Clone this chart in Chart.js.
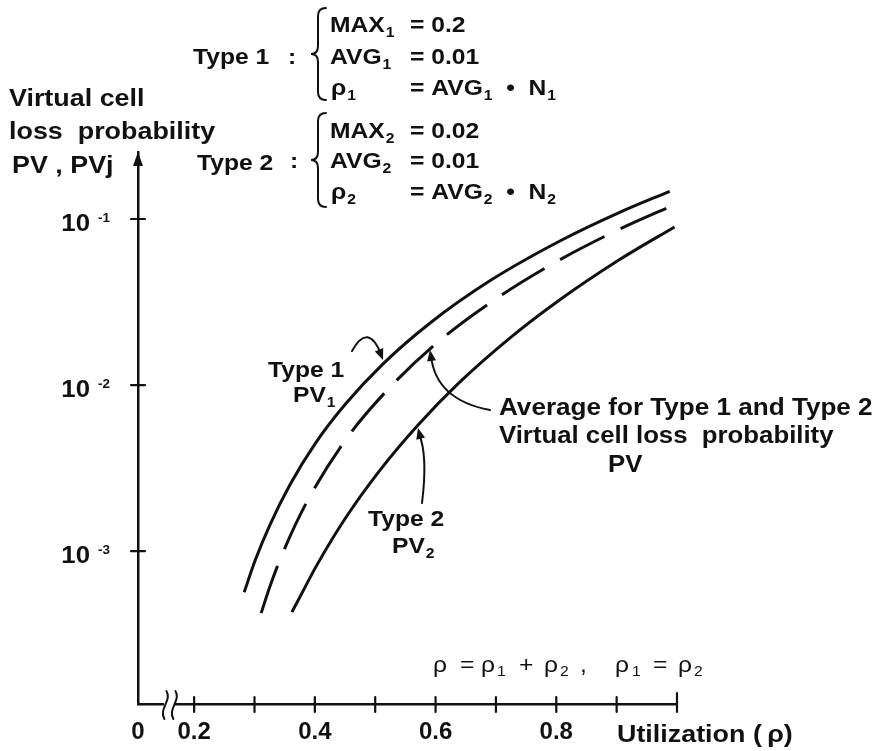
<!DOCTYPE html>
<html>
<head>
<meta charset="utf-8">
<script src="https://cdn.jsdelivr.net/npm/chart.js@4.4.1/dist/chart.umd.min.js"></script>
<style>
  html, body { margin: 0; padding: 0; background: #fff; }
  canvas { display: block; }
</style>
</head>
<body>
<canvas id="c" width="885" height="751"></canvas>
<script>
// Virtual cell loss probability versus utilization, two traffic types and their average
const utilType1 = [0.283, 0.301, 0.326, 0.359, 0.400, 0.450, 0.513, 0.591, 0.690, 0.806, 0.905, 0.988];
const pvType1   = [5.66e-4, 8.78e-4, 1.45e-3, 2.52e-3, 4.41e-3, 7.63e-3, 1.342e-2, 2.366e-2, 4.243e-2, 7.37e-2, 0.1096, 0.1469];

const utilAvg = [0.311, 0.326, 0.351, 0.389, 0.453, 0.525, 0.607, 0.702, 0.801, 0.905, 0.993];
const pvAvg   = [4.23e-4, 6.19e-4, 1.057e-3, 2.048e-3, 4.79e-3, 9.74e-3, 1.856e-2, 3.342e-2, 5.553e-2, 8.69e-2, 0.1208];

const utilType2 = [0.362, 0.376, 0.404, 0.450, 0.508, 0.571, 0.640, 0.723, 0.806, 0.905, 0.996];
const pvType2   = [4.29e-4, 5.36e-4, 8.32e-4, 1.567e-3, 3.076e-3, 5.75e-3, 1.041e-2, 1.919e-2, 3.265e-2, 5.70e-2, 8.96e-2];

// Axis ticks (the first x tick is the broken-axis origin, labelled 0)
const xTickValues = [0.107, 0.2, 0.3, 0.4, 0.5, 0.6, 0.7, 0.8, 0.9, 1.0];
const xTickLabels = ['0', '0.2', '', '0.4', '', '0.6', '', '0.8', '', ''];
const yTickValues = [1e-3, 1e-2, 1e-1];
const yTickExponents = ['-3', '-2', '-1'];

const X_BREAK = 0.159;
const INK = '#111';
const FONT = '"Liberation Sans", Arial, Helvetica, sans-serif';
const SX = 1.12; // lettering is drawn slightly wide

function text(ctx, s, x, y, size, opt = {}) {
  ctx.save();
  ctx.font = `${opt.weight || 'bold'} ${size}px ${FONT}`;
  const w = ctx.measureText(s).width * SX;
  let x0 = x;
  if (opt.align === 'right') x0 = x - w;
  else if (opt.align === 'center') x0 = x - w / 2;
  ctx.translate(x0, y);
  ctx.scale(SX, 1);
  ctx.textAlign = 'left';
  ctx.textBaseline = 'alphabetic';
  ctx.fillStyle = INK;
  ctx.fillText(s, 0, 0);
  ctx.restore();
  return x0 + w;
}

function runs(ctx, parts, x, y, size, opt = {}) {
  let cx = x;
  for (const [s, kind] of parts) {
    if (kind === 'sub') cx = text(ctx, s, cx + 1, y + 5, Math.round(size * 0.62), opt);
    else cx = text(ctx, s, cx, y, size, opt);
  }
  return cx;
}

function arrowHead(ctx, tx, ty, fx, fy, len = 11, half = 4.5) {
  const a = Math.atan2(ty - fy, tx - fx);
  ctx.save();
  ctx.translate(tx, ty);
  ctx.rotate(a);
  ctx.beginPath();
  ctx.moveTo(0, 0);
  ctx.lineTo(-len, -half);
  ctx.lineTo(-len, half);
  ctx.closePath();
  ctx.fillStyle = INK;
  ctx.fill();
  ctx.restore();
}

function brace(ctx, x, top, bottom) {
  const mid = (top + bottom) / 2;
  ctx.beginPath();
  ctx.moveTo(x + 8, top);
  ctx.quadraticCurveTo(x, top, x, top + 8);
  ctx.lineTo(x, mid - 8);
  ctx.quadraticCurveTo(x, mid, x - 7, mid);
  ctx.quadraticCurveTo(x, mid, x, mid + 8);
  ctx.lineTo(x, bottom - 8);
  ctx.quadraticCurveTo(x, bottom, x + 8, bottom);
  ctx.stroke();
}

const decorations = {
  id: 'decorations',
  afterDraw(chart) {
    const { ctx, chartArea: ca } = chart;
    const xs = chart.scales.x, ys = chart.scales.y;
    ctx.save();
    ctx.strokeStyle = INK;
    ctx.fillStyle = INK;
    ctx.lineCap = 'round';

    // y axis arrow head
    ctx.beginPath();
    ctx.moveTo(ca.left, ca.top);
    ctx.lineTo(ca.left - 5, ca.top + 14);
    ctx.lineTo(ca.left + 5, ca.top + 14);
    ctx.closePath();
    ctx.fill();

    // tick marks crossing the axes
    ctx.lineWidth = 2.2;
    xs.ticks.forEach((t, i) => {
      if (i === 0) return;
      const px = xs.getPixelForValue(t.value);
      const up = i === xs.ticks.length - 1 ? 11 : 7;
      ctx.beginPath();
      ctx.moveTo(px, ca.bottom - up);
      ctx.lineTo(px, ca.bottom + 8);
      ctx.stroke();
    });
    ys.ticks.forEach((t, i) => {
      const py = ys.getPixelForValue(t.value);
      ctx.beginPath();
      ctx.moveTo(ca.left - 7, py);
      ctx.lineTo(ca.left + 7, py);
      ctx.stroke();
      text(ctx, '10', ca.left - 48, py + 12, 23, { align: 'right' });
      text(ctx, yTickExponents[i], ca.left - 40, py + 3, 12);
    });

    // broken x axis between 0 and 0.2
    const bx = xs.getPixelForValue(X_BREAK);
    ctx.save();
    ctx.strokeStyle = '#fff';
    ctx.lineWidth = 5;
    ctx.beginPath();
    ctx.moveTo(bx - 3, ca.bottom);
    ctx.lineTo(bx + 3, ca.bottom);
    ctx.stroke();
    ctx.restore();
    ctx.lineWidth = 2;
    [-5, 4].forEach(dx => {
      ctx.beginPath();
      ctx.moveTo(bx + dx + 2, ca.bottom - 13);
      ctx.bezierCurveTo(bx + dx + 8, ca.bottom - 4, bx + dx - 6, ca.bottom + 5, bx + dx, ca.bottom + 15);
      ctx.stroke();
    });

    // axis titles
    text(ctx, 'Virtual cell', 9, 106, 24);
    text(ctx, 'loss  probability', 9, 139, 24);
    text(ctx, 'PV , PVj', 12, 173, 24);
    text(ctx, 'Utilization (\u2009ρ)', 617, 742, 24);

    // source parameters
    ctx.lineWidth = 2;
    text(ctx, 'Type 1', 193, 64, 22);
    text(ctx, ':', 288, 64, 22);
    brace(ctx, 318, 8, 100);
    runs(ctx, [['MAX'], ['1', 'sub']], 330, 32, 22);
    text(ctx, '= 0.2', 410, 32, 22);
    runs(ctx, [['AVG'], ['1', 'sub']], 330, 64, 22);
    text(ctx, '= 0.01', 410, 64, 22);
    runs(ctx, [['ρ'], ['1', 'sub']], 331, 95, 22);
    runs(ctx, [['= AVG'], ['1', 'sub'], ['  •  N'], ['1', 'sub']], 410, 95, 22);

    text(ctx, 'Type 2', 197, 170, 22);
    text(ctx, ':', 290, 168, 22);
    brace(ctx, 318, 113, 207);
    runs(ctx, [['MAX'], ['2', 'sub']], 330, 138, 22);
    text(ctx, '= 0.02', 410, 138, 22);
    runs(ctx, [['AVG'], ['2', 'sub']], 330, 168, 22);
    text(ctx, '= 0.01', 410, 168, 22);
    runs(ctx, [['ρ'], ['2', 'sub']], 331, 199, 22);
    runs(ctx, [['= AVG'], ['2', 'sub'], ['  •  N'], ['2', 'sub']], 410, 199, 22);

    // curve labels and pointers
    text(ctx, 'Type 1', 268, 377, 22);
    runs(ctx, [['PV'], ['1', 'sub']], 293, 402, 22);
    text(ctx, 'Type 2', 368, 526, 22);
    runs(ctx, [['PV'], ['2', 'sub']], 392, 553, 22);
    text(ctx, 'Average for Type 1 and Type 2', 499, 415, 23.3);
    text(ctx, 'Virtual cell loss  probability', 499, 443, 23);
    text(ctx, 'PV', 608, 472, 23);

    ctx.lineWidth = 2;
    ctx.beginPath();
    ctx.moveTo(352, 351);
    ctx.quadraticCurveTo(368, 322, 381, 354);
    ctx.stroke();
    arrowHead(ctx, 383, 360, 376, 342);

    ctx.beginPath();
    ctx.moveTo(422, 503);
    ctx.quadraticCurveTo(428, 455, 419, 434);
    ctx.stroke();
    arrowHead(ctx, 418, 428, 422, 444);

    ctx.beginPath();
    ctx.moveTo(490, 410);
    ctx.quadraticCurveTo(436, 400, 431, 356);
    ctx.stroke();
    arrowHead(ctx, 430, 350, 432, 364);

    // utilization relation
    const fy = 672, fs = 22, w = { weight: 'normal' };
    text(ctx, 'ρ', 433, fy, fs, w);
    text(ctx, '=', 460, fy, fs, w);
    text(ctx, 'ρ', 481, fy, fs, w);
    text(ctx, '1', 497, fy + 4, 14, w);
    text(ctx, '+', 519, fy, fs, w);
    text(ctx, 'ρ', 544, fy, fs, w);
    text(ctx, '2', 560, fy + 4, 14, w);
    text(ctx, ',', 580, fy, fs, w);
    text(ctx, 'ρ', 615, fy, fs, w);
    text(ctx, '1', 632, fy + 4, 14, w);
    text(ctx, '=', 653, fy, fs, w);
    text(ctx, 'ρ', 678, fy, fs, w);
    text(ctx, '2', 694, fy + 4, 14, w);

    ctx.restore();
  }
};

const lineStyle = {
  borderColor: INK,
  borderWidth: 3,
  pointRadius: 0,
  fill: false,
  cubicInterpolationMode: 'monotone'
};

new Chart(document.getElementById('c'), {
  type: 'line',
  data: {
    datasets: [
      { ...lineStyle, label: 'Type 1 PV1', data: utilType1.map((x, i) => ({ x, y: pvType1[i] })) },
      { ...lineStyle, label: 'Average PV', borderDash: [50, 18], data: utilAvg.map((x, i) => ({ x, y: pvAvg[i] })) },
      { ...lineStyle, label: 'Type 2 PV2', data: utilType2.map((x, i) => ({ x, y: pvType2[i] })) }
    ]
  },
  options: {
    responsive: false,
    animation: false,
    devicePixelRatio: 1,
    layout: { padding: { top: 152, right: 208, bottom: 0, left: 0 } },
    plugins: { legend: { display: false }, tooltip: { enabled: false } },
    scales: {
      x: {
        type: 'linear',
        min: 0.107,
        max: 1.0,
        afterFit(s) { s.height = 47; },
        afterBuildTicks(s) { s.ticks = xTickValues.map(v => ({ value: v })); },
        ticks: {
          autoSkip: false,
          maxRotation: 0,
          padding: 6,
          color: INK,
          font: { family: FONT, size: 24, weight: 'bold' },
          callback: (v, i) => xTickLabels[i]
        },
        grid: { display: false },
        border: { display: true, color: INK, width: 2.5 }
      },
      y: {
        type: 'logarithmic',
        min: 1.2e-4,
        max: 0.2533,
        afterFit(s) { s.width = 138; },
        afterBuildTicks(s) { s.ticks = yTickValues.map(v => ({ value: v })); },
        ticks: { display: false },
        grid: { display: false },
        border: { display: true, color: INK, width: 2.5 }
      }
    }
  },
  plugins: [decorations]
});
</script>
</body>
</html>
